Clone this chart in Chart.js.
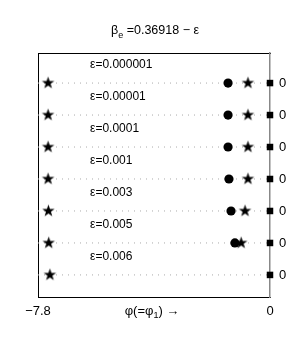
<!DOCTYPE html>
<html>
<head>
<meta charset="utf-8">
<script src="https://cdn.jsdelivr.net/npm/chart.js@4"></script>
<style>
  html, body { margin: 0; padding: 0; background: #fff; }
</style>
</head>
<body>
<canvas id="chart" width="299" height="345"></canvas>
<script>
// one row per epsilon, top to bottom
var rows = [7, 6, 5, 4, 3, 2, 1];
var epsLabels = ["ε=0.000001", "ε=0.00001", "ε=0.0001", "ε=0.001", "ε=0.003", "ε=0.005", "ε=0.006"];
var leftStar = [-7.46, -7.46, -7.46, -7.46, -7.45, -7.44, -7.40];
var circles = [-1.41, -1.41, -1.41, -1.38, -1.31, -1.18, null];
var rightStar = [-0.74, -0.74, -0.74, -0.74, -0.84, -0.97, null];
var squares = [0, 0, 0, 0, 0, 0, 0];
var xTicks = [-7.8, 0];
var xTickLabels = ["\u22127.8", "0"];
var yTickLabel = "0";

var FONT = "'Liberation Sans', Arial, Helvetica, sans-serif";

function makeStar(r) {
    var c = document.createElement("canvas");
    var s = Math.ceil(r * 2 + 2);
    c.width = s; c.height = s;
    var g = c.getContext("2d");
    g.fillStyle = "#000";
    g.beginPath();
    for (var k = 0; k < 10; k++) {
        var rad = k % 2 === 0 ? r : r * 0.4;
        var a = -Math.PI / 2 + k * Math.PI / 5;
        var px = s / 2 + rad * Math.cos(a), py = s / 2 + rad * Math.sin(a);
        if (k === 0) g.moveTo(px, py); else g.lineTo(px, py);
    }
    g.closePath();
    g.fill();
    return c;
}
var starImg = makeStar(6.5);

function pts(xs) {
    var out = [];
    xs.forEach(function (v, i) { if (v !== null) out.push({ x: v, y: rows[i] }); });
    return out;
}

var datasets = [
    { data: pts(rightStar), pointStyle: starImg, pointRadius: 6, showLine: false, clip: false },
    { data: pts(circles), pointStyle: "circle", pointRadius: 4.6, backgroundColor: "#000", borderColor: "#000", borderWidth: 0, showLine: false, clip: false },
    { data: pts(leftStar), pointStyle: starImg, pointRadius: 6, showLine: false, clip: false },
    { data: pts(squares), pointStyle: "rect", pointRadius: 4.6, backgroundColor: "#000", borderColor: "#000", borderWidth: 0, showLine: false, clip: false }
];
// dotted guide per row
rows.forEach(function (r) {
    datasets.push({
        data: [{ x: xTicks[0], y: r }, { x: xTicks[1], y: r }],
        showLine: true, pointRadius: 0, borderColor: "#aaa", borderWidth: 1,
        borderDash: [1, 5], order: 10, clip: false
    });
});

function drawRich(ctx, parts, cx, cy, size) {
    var total = 0;
    parts.forEach(function (p) {
        ctx.font = (p.sub ? Math.round(size * 0.7) : size) + "px " + FONT;
        p.w = ctx.measureText(p.t).width;
        total += p.w;
    });
    var x = cx - total / 2;
    ctx.textAlign = "left";
    ctx.textBaseline = "middle";
    parts.forEach(function (p) {
        ctx.font = (p.sub ? Math.round(size * 0.7) : size) + "px " + FONT;
        ctx.fillText(p.t, x, cy + (p.sub ? size * 0.35 : 0));
        x += p.w;
    });
}

var textPlugin = {
    id: "texts",
    afterDraw: function (chart) {
        var ctx = chart.ctx, area = chart.chartArea;
        var sx = chart.scales.x, sy = chart.scales.y;
        ctx.save();
        ctx.fillStyle = "#000";
        ctx.font = "12px " + FONT;
        ctx.textAlign = "left";
        ctx.textBaseline = "middle";
        epsLabels.forEach(function (t, i) {
            ctx.fillText(t, sx.getPixelForValue(-6.05), sy.getPixelForValue(rows[i] + 0.58));
        });
        var cx = (area.left + area.right) / 2;
        drawRich(ctx, [{ t: "β" }, { t: "e", sub: true }, { t: " =0.36918 \u2212 ε" }], cx + 1, area.top - 22, 12.5);
        drawRich(ctx, [{ t: "φ(=φ" }, { t: "1", sub: true }, { t: ") \u2192" }], cx - 2, area.bottom + 14, 13);
        ctx.restore();
    }
};

new Chart(document.getElementById("chart"), {
    type: "scatter",
    data: { datasets: datasets },
    options: {
        responsive: false,
        animation: false,
        devicePixelRatio: 1,
        layout: { padding: { top: 53, left: 0, right: 0, bottom: 0 } },
        plugins: { legend: { display: false }, tooltip: { enabled: false } },
        elements: { point: { backgroundColor: "#000", borderColor: "#000" } },
        scales: {
            x: {
                type: "linear", position: "bottom", min: -7.8, max: 0,
                grid: { display: false, drawTicks: false },
                border: { color: "#000", width: 1 },
                afterBuildTicks: function (s) { s.ticks = xTicks.map(function (v) { return { value: v }; }); },
                ticks: {
                    autoSkip: false, maxRotation: 0, padding: 7, color: "#000",
                    font: { size: 13, family: FONT },
                    callback: function (v, i) { return xTickLabels[i]; }
                },
                afterFit: function (s) { s.height = 48; }
            },
            xTop: {
                type: "linear", position: "top", min: -7.8, max: 0,
                grid: { display: false, drawTicks: false },
                border: { color: "#000", width: 1 },
                ticks: { display: false },
                afterFit: function (s) { s.height = 0; }
            },
            y: {
                type: "linear", position: "left", min: 0.31, max: 7.94,
                grid: { display: false, drawTicks: false },
                border: { color: "#000", width: 1 },
                ticks: { display: false },
                afterFit: function (s) { s.width = 38; }
            },
            y2: {
                type: "linear", position: "right", min: 0.31, max: 7.94,
                grid: { display: false, drawTicks: false },
                border: { color: "#888", width: 1.5 },
                afterBuildTicks: function (s) { s.ticks = rows.map(function (v) { return { value: v }; }); },
                ticks: {
                    autoSkip: false, padding: 9, color: "#000",
                    font: { size: 13, family: FONT },
                    callback: function () { return yTickLabel; }
                },
                afterFit: function (s) { s.width = 29; }
            }
        }
    },
    plugins: [textPlugin]
});
</script>
</body>
</html>
